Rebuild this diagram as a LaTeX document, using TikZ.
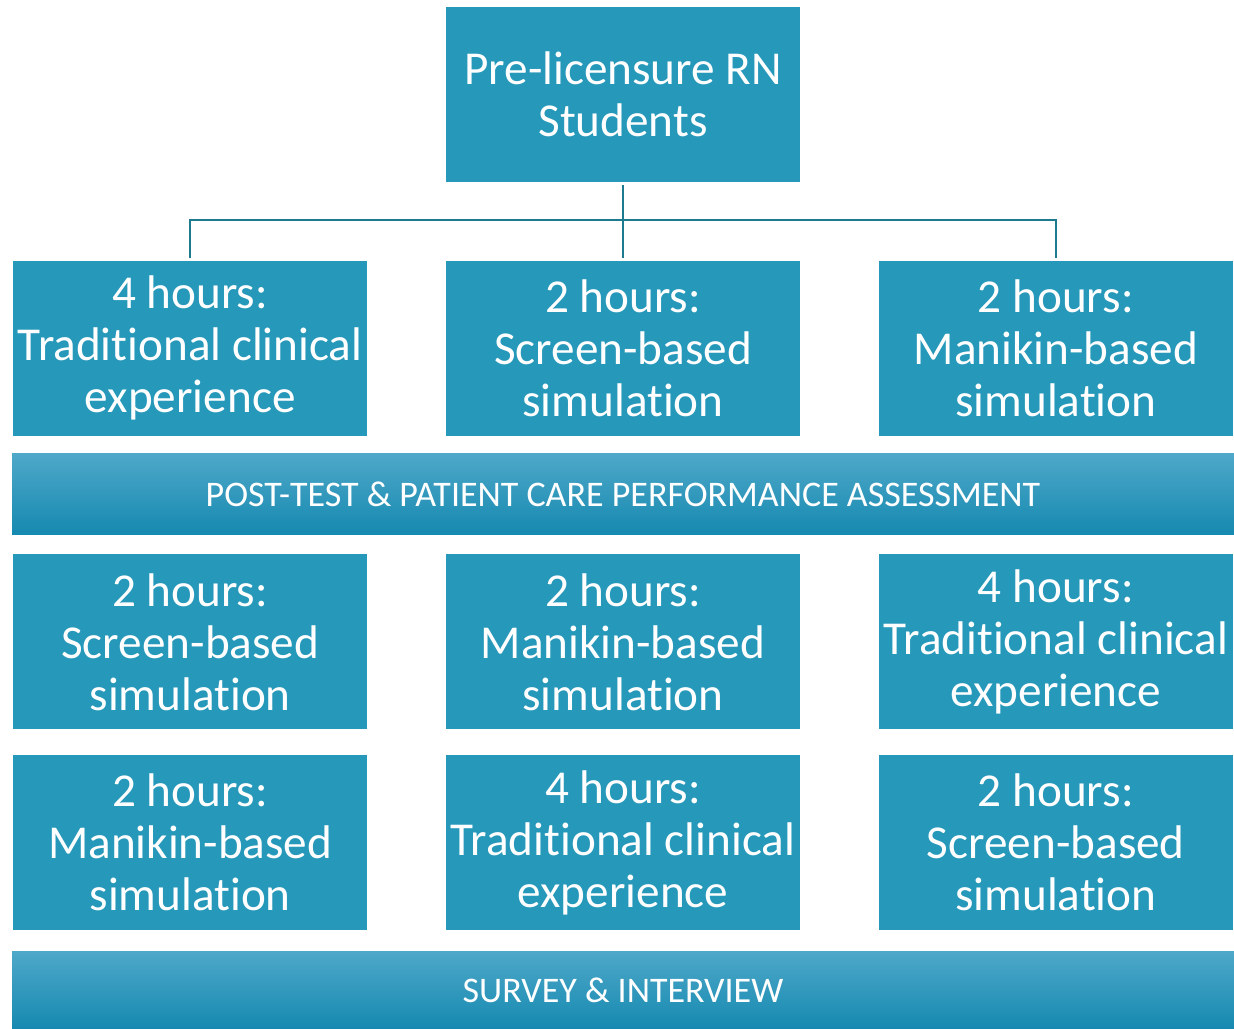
\documentclass[tikz,border=0pt]{standalone}
\usepackage{fontspec}
\setmainfont{Carlito}[Ligatures=NoCommon]
\usetikzlibrary{positioning}
\definecolor{boxblue}{HTML}{2698BA}
\definecolor{linkblue}{HTML}{1E7A8E}
\definecolor{bartop}{HTML}{4EA8C9}
\definecolor{barmid}{HTML}{1E9AC2}
\definecolor{barbot}{HTML}{1689B0}
\begin{document}
\begin{tikzpicture}[x=0.5pt, y=-0.5pt, node distance=39pt,
	main/.style = {fill=boxblue, text=white, inner sep=0pt, minimum width=177pt, minimum height=87.5pt, align=center, font=\fontsize{23.6}{26}\selectfont},
	bar/.style = {top color=bartop, middle color=barmid, bottom color=barbot, text=white, inner sep=0pt, minimum width=611pt, minimum height=40.5pt, font=\fontsize{18}{20}\selectfont},
	link/.style = {draw=linkblue, line width=1pt}]
	\useasboundingbox (0,0) rectangle (1234,1028);
	\node[main] (top) at (623,94.5) {Pre-licensure RN\\Students};
	% first block
	\node[main] (r1b) [below=39pt of top] {2 hours:\\Screen-based\\simulation};
	\node[main] (r1a) [left=39pt of r1b] {4 hours:\\Traditional clinical\\experience};
	\node[main] (r1c) [right=39pt of r1b] {2 hours:\\Manikin-based\\simulation};
	\node[bar] (post) [below=8.5pt of r1b] {POST-TEST \& PATIENT CARE PERFORMANCE ASSESSMENT};
	% second block
	\node[main] (r2b) [below=9.5pt of post] {2 hours:\\Manikin-based\\simulation};
	\node[main] (r2a) [left=39pt of r2b] {2 hours:\\Screen-based\\simulation};
	\node[main] (r2c) [right=39pt of r2b] {4 hours:\\Traditional clinical\\experience};
	% third block
	\node[main] (r3b) [below=12.5pt of r2b] {4 hours:\\Traditional clinical\\experience};
	\node[main] (r3a) [left=39pt of r3b] {2 hours:\\Manikin-based\\simulation};
	\node[main] (r3c) [right=39pt of r3b] {2 hours:\\Screen-based\\simulation};
	\node[bar, minimum height=39pt] (survey) [below=10pt of r3b] {SURVEY \& INTERVIEW};
	% tree lines
	\coordinate (split) at (623,220);
	\draw[link, shorten <=1.5pt, shorten >=1pt] (top) -- (r1b);
	\draw[link, shorten <=1pt, shorten >=1pt] (r1a.north) |- (split) -| (r1c.north);
\end{tikzpicture}
\end{document}
